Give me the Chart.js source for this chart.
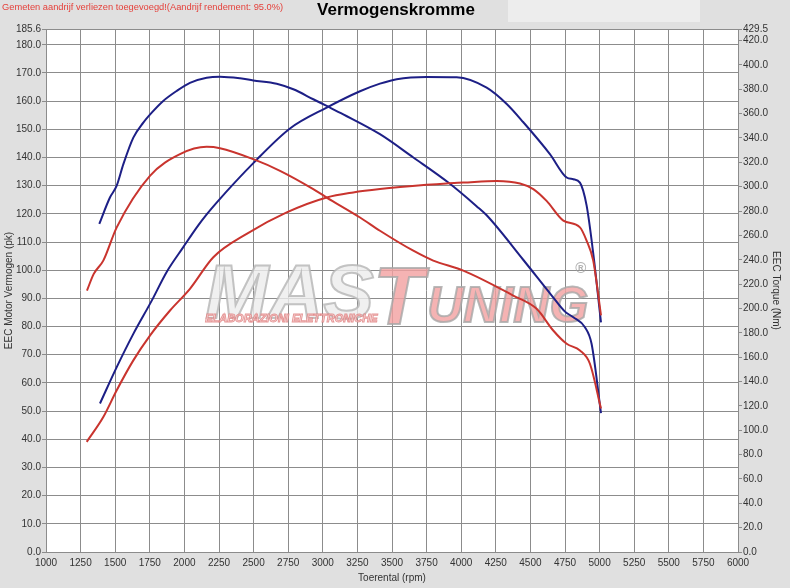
<!DOCTYPE html>
<html>
<head>
<meta charset="utf-8">
<script src="https://cdn.jsdelivr.net/npm/chart.js@4"></script>
<style>
  html, body { margin: 0; padding: 0; background: #e0e0e0; }
  canvas { display: block; }
</style>
</head>
<body>
<canvas id="graph" width="790" height="588"></canvas>
<script>
// tick labels
const rpmTicks = [1000, 1250, 1500, 1750, 2000, 2250, 2500, 2750, 3000, 3250, 3500,
  3750, 4000, 4250, 4500, 4750, 5000, 5250, 5500, 5750, 6000];
const powerTicks = [0, 10, 20, 30, 40, 50, 60, 70, 80, 90, 100, 110, 120, 130, 140,
  150, 160, 170, 180, 185.6];
const torqueTicks = [0, 20, 40, 60, 80, 100, 120, 140, 160, 180, 200, 220, 240, 260,
  280, 300, 320, 340, 360, 380, 400, 420, 429.5];

// blauw: na tuning
const blueTorqueRpm = [1385, 1462, 1511, 1559, 1631, 1703, 1764, 1847, 1944, 2040, 2161,
  2257, 2402, 2498, 2667, 2787, 2931, 3028, 3148, 3413, 3654, 3907, 4111, 4184, 4448,
  4654, 4750, 4810, 4894, 4942, 5010];
const blueTorqueNm = [269.4, 291.1, 300.8, 318.5, 340.3, 352.6, 360.8, 370.4, 378.6, 385.3,
  389.5, 390.3, 389.0, 387.3, 384.6, 380.0, 371.8, 366.3, 359.4, 343.1, 324.0, 303.4,
  284.0, 276.5, 240.0, 210.6, 197.4, 192.8, 184.6, 171.0, 114.0];

const bluePowerRpm = [1390, 1511, 1631, 1764, 1872, 1992, 2100, 2161, 2233, 2498, 2763,
  3028, 3269, 3413, 3534, 3750, 3967, 4184, 4329, 4449, 4641, 4762, 4810, 4858, 4906,
  4954, 5010];
const bluePowerPk = [52.7, 65.6, 77.4, 89.2, 99.4, 108.2, 115.9, 119.8, 124.0, 138.0,
  150.3, 157.7, 163.5, 166.2, 167.8, 168.6, 168.5, 164.8, 159.0, 152.5, 141.2, 132.9,
  132.3, 131.1, 123.0, 106.0, 81.5];

// rood: origineel
const redTorqueRpm = [1296, 1345, 1414, 1511, 1751, 1968, 2161, 2257, 2498, 2691, 2931,
  3028, 3269, 3413, 3654, 3798, 4015, 4376, 4545, 4665, 4762, 4858, 4930, 5010];
const redTorqueNm = [214.7, 228.4, 239.3, 266.6, 308.9, 326.7, 332.7, 331.6, 322.6, 313.0,
  298.0, 291.1, 274.7, 263.8, 247.4, 239.3, 231.1, 210.6, 199.7, 181.9, 171.0, 165.5,
  154.6, 117.8];

const redPowerRpm = [1294, 1414, 1511, 1631, 1751, 1896, 2040, 2209, 2450, 2739, 3028,
  3220, 3413, 3750, 3895, 4015, 4256, 4425, 4521, 4617, 4738, 4858, 4906, 4954, 5010];
const redPowerPk = [39.1, 47.9, 57.4, 68.0, 76.8, 85.7, 93.4, 104.6, 112.9, 120.5, 125.8,
  127.6, 128.8, 130.3, 130.8, 131.1, 131.7, 130.8, 128.8, 124.6, 117.6, 115.2, 110.5,
  103.4, 84.0];

const font = 'Liberation Sans, Arial, sans-serif';
const tickFont = { family: font, size: 10 };
const gridColor = '#8c8c8c';
const textColor = '#333333';

function points(rpm, values) {
  return rpm.map((r, i) => ({ x: r, y: values[i] }));
}

function fixedTicks(values) {
  return (scale) => {
    scale.ticks = values.map((v) => ({ value: v }));
  };
}

const backdrop = {
  id: 'backdrop',
  beforeDraw(chart) {
    const { ctx, chartArea: a, width } = chart;
    ctx.save();
    ctx.fillStyle = '#e0e0e0';
    ctx.fillRect(0, 0, width, chart.height);
    ctx.fillStyle = '#ededed';
    ctx.fillRect(508, 0, 192, 22);
    ctx.fillStyle = '#ffffff';
    ctx.fillRect(a.left, a.top, a.right - a.left, a.bottom - a.top);

    ctx.fillStyle = '#e5413b';
    ctx.font = '9.3px ' + font;
    ctx.textBaseline = 'middle';
    ctx.textAlign = 'left';
    ctx.fillText('Gemeten aandrijf verliezen toegevoegd!(Aandrijf rendement: 95.0%)', 2, 7);

    ctx.fillStyle = '#000000';
    ctx.font = 'bold 17px ' + font;
    ctx.textAlign = 'center';
    ctx.fillText('Vermogenskromme', 396, 10);
    ctx.restore();
  },
};

// watermerk achter de lijnen
const logo = {
  id: 'logo',
  beforeDatasetsDraw(chart) {
    const { ctx, chartArea: a } = chart;
    const x = a.left + a.width * 0.23;
    const y = a.top + a.height * 0.553;
    ctx.save();
    ctx.globalAlpha = 0.8;
    ctx.textBaseline = 'alphabetic';
    ctx.textAlign = 'left';
    ctx.lineWidth = 2;

    ctx.font = 'italic bold 76px ' + font;
    ctx.fillStyle = '#ececec';
    ctx.strokeStyle = '#b5b5b5';
    ctx.fillText('MAS', x, y);
    ctx.strokeText('MAS', x, y);

    ctx.fillStyle = '#f2a0a0';
    ctx.strokeStyle = '#a8a8a8';
    ctx.font = 'italic bold 82px ' + font;
    ctx.fillText('T', x + 168, y + 6);
    ctx.strokeText('T', x + 168, y + 6);
    ctx.font = 'italic bold 50px ' + font;
    ctx.fillText('UNING', x + 222, y + 4);
    ctx.strokeText('UNING', x + 222, y + 4);

    ctx.lineWidth = 1;
    ctx.font = 'italic bold 11px ' + font;
    ctx.fillStyle = '#fde6e6';
    ctx.strokeStyle = '#e07f7f';
    ctx.fillText('ELABORAZIONI ELETTRONICHE', x, y + 4);
    ctx.strokeText('ELABORAZIONI ELETTRONICHE', x, y + 4);

    ctx.fillStyle = '#a0a0a0';
    ctx.font = 'bold 15px ' + font;
    ctx.fillText('\u00AE', x + 370, y - 45);
    ctx.restore();
  },
};

const ctx = document.getElementById('graph').getContext('2d');

const chart = new Chart(ctx, {
  type: 'line',
  data: {
    datasets: [
      {
        label: 'Vermogen origineel',
        data: points(redPowerRpm, redPowerPk),
        borderColor: '#c9342e',
        yAxisID: 'yL',
      },
      {
        label: 'Koppel origineel',
        data: points(redTorqueRpm, redTorqueNm),
        borderColor: '#c9342e',
        yAxisID: 'yR',
      },
      {
        label: 'Vermogen',
        data: points(bluePowerRpm, bluePowerPk),
        borderColor: '#1d1f86',
        yAxisID: 'yL',
      },
      {
        label: 'Koppel',
        data: points(blueTorqueRpm, blueTorqueNm),
        borderColor: '#1d1f86',
        yAxisID: 'yR',
      },
    ],
  },
  options: {
    responsive: false,
    animation: false,
    devicePixelRatio: 1,
    layout: { padding: { top: 29, left: 0, right: 0, bottom: 0 } },
    elements: {
      point: { radius: 0 },
      line: { borderWidth: 2, cubicInterpolationMode: 'monotone', fill: false },
    },
    plugins: {
      legend: { display: false },
      tooltip: { enabled: false },
    },
    scales: {
      x: {
        type: 'linear',
        min: 1000,
        max: 6000,
        afterBuildTicks: fixedTicks(rpmTicks),
        afterFit: (s) => { s.height = 36; },
        ticks: {
          font: tickFont,
          color: textColor,
          padding: 5,
          maxRotation: 0,
          autoSkip: false,
          callback: (v) => String(v),
        },
        grid: { color: gridColor, drawTicks: false },
        border: { color: gridColor },
        title: {
          display: true,
          text: 'Toerental (rpm)',
          font: tickFont,
          color: textColor,
          padding: { top: 0, bottom: 4 },
        },
      },
      yL: {
        type: 'linear',
        position: 'left',
        min: 0,
        max: 185.6,
        afterBuildTicks: fixedTicks(powerTicks),
        afterFit: (s) => { s.width = 46; },
        ticks: {
          font: tickFont,
          color: textColor,
          padding: 1,
          autoSkip: false,
          callback: (v) => v.toFixed(1),
        },
        grid: { color: gridColor, tickLength: 4 },
        border: { color: gridColor },
        title: {
          display: true,
          text: 'EEC Motor Vermogen (pk)',
          font: tickFont,
          color: textColor,
          padding: { top: 3, bottom: 0 },
        },
      },
      yR: {
        type: 'linear',
        position: 'right',
        min: 0,
        max: 429.5,
        afterBuildTicks: fixedTicks(torqueTicks),
        afterFit: (s) => { s.width = 52; },
        ticks: {
          font: tickFont,
          color: textColor,
          padding: 1,
          autoSkip: false,
          callback: (v) => v.toFixed(1),
        },
        grid: { color: gridColor, tickLength: 4, drawOnChartArea: false },
        border: { color: gridColor },
        title: {
          display: true,
          text: 'EEC Torque (Nm)',
          font: tickFont,
          color: textColor,
          padding: { top: 8, bottom: 0 },
        },
      },
    },
  },
  plugins: [backdrop, logo],
});
</script>
</body>
</html>
